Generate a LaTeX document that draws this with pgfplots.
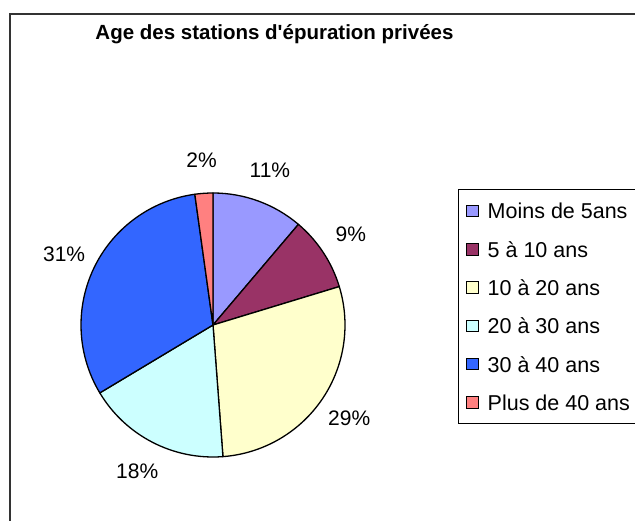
\documentclass[border=0pt]{standalone}
\usepackage{fontspec}
\setmainfont{Liberation Sans}[Ligatures=TeXOff]
\usepackage{pgfplots}
\usepackage{pgfplotstable}
\pgfplotsset{compat=1.18}

\definecolor{pie0}{HTML}{9999FF}
\definecolor{pie1}{HTML}{993366}
\definecolor{pie2}{HTML}{FFFFCC}
\definecolor{pie3}{HTML}{CCFFFF}
\definecolor{pie4}{HTML}{3366FF}
\definecolor{pie5}{HTML}{FF8080}

\newcommand\lblfont{\fontsize{21}{24}\selectfont}
\newcommand\legfont{\fontsize{21.5}{24}\selectfont}
\newcommand\ttlfont{\fontsize{20.5}{24}\selectfont\bfseries}

% share of each age class (%), label as printed, legend text
\pgfplotstableread[col sep=comma]{
value,label,name
11.2,11,Moins de 5ans
9.1,9,5 à 10 ans
28.5,29,10 à 20 ans
17.6,18,20 à 30 ans
31.4,31,30 à 40 ans
2.2,2,Plus de 40 ans
}\piedata

\begin{document}
\begin{tikzpicture}
\begin{axis}[
    hide axis,
    scale only axis,
    width=635pt, height=520pt,
    xmin=0, xmax=635, ymin=0, ymax=520,
    clip=false
]
\coordinate (ll) at (axis cs:0,0);
\coordinate (ur) at (axis cs:635,520);

% chart frame (right and bottom edges fall outside the picture)
\draw[line width=1.3pt, black!80] (axis cs:10,-10) -- (axis cs:10,506) -- (axis cs:650,506);
\node[font=\ttlfont, anchor=base] at (axis cs:274.5,480.5) {Age des stations d'épuration privées};

% legend frame
\draw[line width=1pt, black] (axis cs:650,330) -- (axis cs:458.5,330) -- (axis cs:458.5,96) -- (axis cs:650,96);

\pgfplotstablegetrowsof{\piedata}
\pgfmathtruncatemacro\nrows{\pgfplotsretval-1}
\def\cum{0}
\pgfplotsforeachungrouped \i in {0,...,\nrows}{
  \pgfplotstablegetelem{\i}{value}\of\piedata \let\v\pgfplotsretval
  \pgfplotstablegetelem{\i}{label}\of\piedata \let\lab\pgfplotsretval
  \pgfplotstablegetelem{\i}{name}\of\piedata \let\nm\pgfplotsretval
  \pgfmathsetmacro\sa{90-3.6*\cum}
  \pgfmathsetmacro\ea{90-3.6*(\cum+\v)}
  \pgfmathsetmacro\ma{(\sa+\ea)/2}
  \pgfmathsetmacro\ly{309-38.3*\i}
  \edef\temp{%
    \noexpand\filldraw[fill=pie\i, draw=black, line width=1.3pt, line join=round]
      (axis cs:213,195) -- ++(\sa:132pt) arc[start angle=\sa, end angle=\ea, radius=132pt] -- cycle;
    \noexpand\path (axis cs:213,195) ++(\ma:165pt) node[font=\noexpand\lblfont] {\lab\noexpand\%};
    \noexpand\filldraw[fill=pie\i, draw=black, line width=1pt]
      (axis cs:466.5,\ly) ++(0,-5.75pt) rectangle ++(11.5pt,11.5pt);
    \noexpand\node[font=\noexpand\legfont, anchor=west, inner sep=0pt] at (axis cs:487.5,\ly) {\nm};
  }%
  \temp
  \pgfmathsetmacro\cum{\cum+\v}
}
\end{axis}
\pgfresetboundingbox
\path[use as bounding box] (ll) rectangle (ur);
\end{tikzpicture}
\end{document}
